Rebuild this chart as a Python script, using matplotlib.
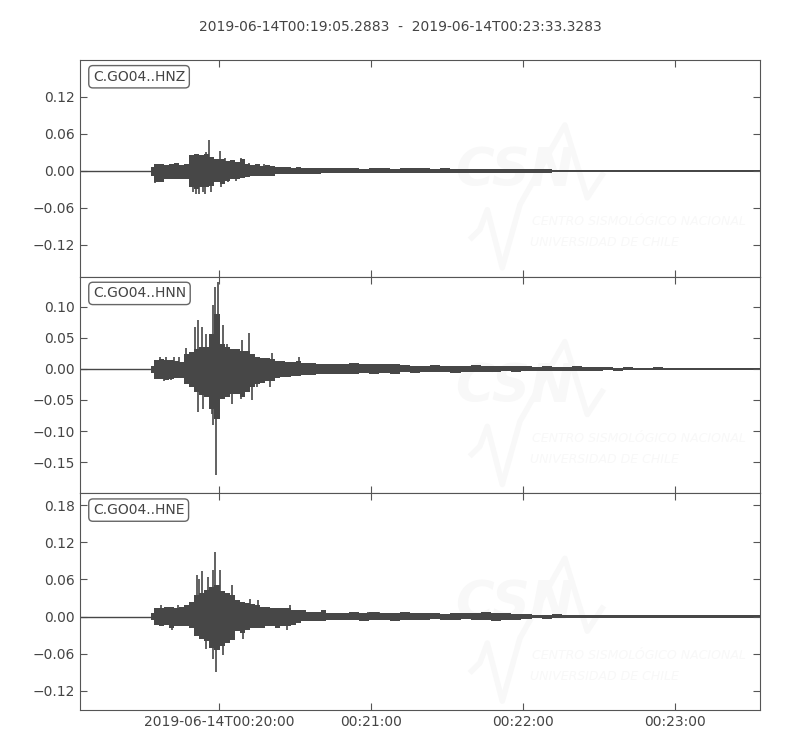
import datetime
import matplotlib.pyplot as plt

# Trace window
start = datetime.datetime(2019, 6, 14, 0, 19, 5, 288300)
end = datetime.datetime(2019, 6, 14, 0, 23, 33, 328300)
duration = (end - start).total_seconds()

channels = ['C.GO04..HNZ', 'C.GO04..HNN', 'C.GO04..HNE']

# bin centres, seconds after start (signal starts ~28 s)
t = [28, 30, 32, 34, 36, 38, 40, 42, 44, 46, 48, 50, 52, 54, 56, 58, 60, 62,
     64, 66, 68, 70, 72, 74, 76, 78, 80, 82, 84, 86, 88, 90, 92, 94, 96, 98,
     100, 104, 108, 112, 116, 120, 124, 128, 132, 136, 140, 144, 148, 152,
     156, 160, 164, 168, 172, 176, 180, 184, 188, 192, 196, 200, 204, 208,
     212, 216, 220, 224, 228, 232, 236, 240, 244, 248, 252, 256, 260, 264, 268]

# max / min of the trace in each bin (m/s^2)
hnz_max = [0.006, 0.011, 0.011, 0.010, 0.011, 0.013, 0.010, 0.011, 0.026, 0.027,
           0.026, 0.027, 0.022, 0.019, 0.019, 0.016, 0.018, 0.014, 0.019, 0.011,
           0.010, 0.011, 0.008, 0.010, 0.008, 0.006, 0.006, 0.006, 0.005, 0.006,
           0.005, 0.005, 0.005, 0.005, 0.005, 0.005, 0.005,
           0.004, 0.004, 0.003, 0.004, 0.004, 0.003, 0.004, 0.004, 0.004, 0.003,
           0.004, 0.003, 0.003, 0.003, 0.003, 0.003, 0.003, 0.003, 0.003, 0.003,
           0.003, 0.002, 0.002, 0.002, 0.002, 0.002, 0.002, 0.002, 0.002, 0.002,
           0.002, 0.002, 0.002, 0.002, 0.002, 0.002, 0.002, 0.002, 0.002, 0.002,
           0.002, 0.002]
hnz_min = [-0.008, -0.019, -0.018, -0.013, -0.013, -0.013, -0.014, -0.014, -0.026,
           -0.029, -0.026, -0.027, -0.024, -0.019, -0.022, -0.016, -0.014, -0.014,
           -0.011, -0.010, -0.008, -0.008, -0.008, -0.008, -0.008, -0.006, -0.006,
           -0.005, -0.005, -0.005, -0.005, -0.005, -0.005, -0.005, -0.003, -0.003,
           -0.003,
           -0.004, -0.003, -0.004, -0.004, -0.003, -0.004, -0.004, -0.003, -0.004,
           -0.004, -0.003, -0.004, -0.003, -0.003, -0.003, -0.003, -0.003, -0.003,
           -0.003, -0.003, -0.003, -0.002, -0.002, -0.002, -0.002, -0.002, -0.002,
           -0.002, -0.002, -0.002, -0.002, -0.002, -0.002, -0.002, -0.002, -0.002,
           -0.002, -0.002, -0.002, -0.002, -0.002, -0.002]

hnn_max = [0.005, 0.014, 0.016, 0.014, 0.014, 0.013, 0.011, 0.024, 0.027, 0.032,
           0.035, 0.035, 0.056, 0.088, 0.040, 0.035, 0.032, 0.032, 0.029, 0.029,
           0.024, 0.019, 0.018, 0.018, 0.016, 0.013, 0.013, 0.011, 0.011, 0.013,
           0.010, 0.010, 0.010, 0.008, 0.008, 0.008, 0.008,
           0.008, 0.009, 0.008, 0.007, 0.008, 0.007, 0.006, 0.005, 0.005, 0.006,
           0.005, 0.005, 0.005, 0.006, 0.005, 0.005, 0.005, 0.004, 0.004, 0.003,
           0.004, 0.003, 0.003, 0.004, 0.003, 0.003, 0.003, 0.002, 0.003, 0.002,
           0.002, 0.003, 0.002, 0.002, 0.002, 0.002, 0.002, 0.002, 0.002, 0.002,
           0.002, 0.002]
hnn_min = [-0.006, -0.016, -0.016, -0.018, -0.016, -0.014, -0.014, -0.024, -0.029,
           -0.038, -0.042, -0.045, -0.064, -0.080, -0.048, -0.045, -0.040, -0.040,
           -0.045, -0.038, -0.029, -0.024, -0.022, -0.019, -0.019, -0.014, -0.013,
           -0.013, -0.011, -0.011, -0.010, -0.010, -0.010, -0.008, -0.008, -0.008,
           -0.008,
           -0.008, -0.009, -0.007, -0.008, -0.007, -0.008, -0.005, -0.006, -0.005,
           -0.005, -0.005, -0.006, -0.005, -0.005, -0.005, -0.005, -0.004, -0.005,
           -0.004, -0.003, -0.003, -0.004, -0.003, -0.003, -0.003, -0.003, -0.002,
           -0.003, -0.002, -0.002, -0.002, -0.002, -0.002, -0.002, -0.002, -0.002,
           -0.002, -0.002, -0.002, -0.002, -0.002, -0.002]

hne_max = [0.005, 0.014, 0.014, 0.016, 0.016, 0.014, 0.016, 0.018, 0.024, 0.035,
           0.038, 0.043, 0.048, 0.051, 0.042, 0.038, 0.035, 0.026, 0.024, 0.022,
           0.021, 0.019, 0.016, 0.016, 0.014, 0.014, 0.014, 0.014, 0.011, 0.010,
           0.010, 0.008, 0.008, 0.008, 0.010, 0.006, 0.006,
           0.006, 0.007, 0.006, 0.008, 0.006, 0.006, 0.007, 0.006, 0.005, 0.005,
           0.004, 0.005, 0.005, 0.006, 0.007, 0.006, 0.005, 0.004, 0.004, 0.003,
           0.003, 0.004, 0.003, 0.003, 0.003, 0.003, 0.002, 0.002, 0.002, 0.002,
           0.002, 0.002, 0.002, 0.002, 0.002, 0.002, 0.002, 0.002, 0.002, 0.002,
           0.002, 0.002]
hne_min = [-0.005, -0.014, -0.016, -0.014, -0.018, -0.016, -0.016, -0.016, -0.019,
           -0.032, -0.037, -0.040, -0.051, -0.054, -0.048, -0.042, -0.038, -0.024,
           -0.026, -0.021, -0.019, -0.019, -0.018, -0.016, -0.016, -0.018, -0.016,
           -0.016, -0.013, -0.010, -0.008, -0.008, -0.008, -0.008, -0.008, -0.006,
           -0.006,
           -0.006, -0.006, -0.007, -0.006, -0.006, -0.007, -0.006, -0.006, -0.005,
           -0.004, -0.005, -0.005, -0.004, -0.006, -0.006, -0.007, -0.005, -0.005,
           -0.004, -0.003, -0.004, -0.003, -0.003, -0.003, -0.003, -0.003, -0.002,
           -0.002, -0.002, -0.002, -0.002, -0.002, -0.002, -0.002, -0.002, -0.002,
           -0.002, -0.002, -0.002, -0.002, -0.002, -0.002]

# single-sample peaks sticking out of the envelope (time s, amplitude)
hnz_peak_t = [44.5, 45.7, 47.0, 48.5, 49.3, 49.7, 51.0, 51.5, 55.2, 55.4, 63.5,
              29.6, 31.4, 57.0, 58.5, 60.8, 61.5, 66.8, 72.5]
hnz_peak_v = [-0.035, -0.038, -0.037, -0.035, -0.038, 0.030, 0.050, -0.035,
              0.032, -0.026, 0.021, -0.020, -0.019, 0.021, -0.019, 0.018,
              -0.016, 0.013, 0.011]
hnn_peak_t = [41.8, 45.3, 46.6, 47.9, 49.7, 52.3, 53.2, 54.3, 56.2, 57.8, 64.0,
              66.6, 46.5, 48.6, 51.9, 52.6, 53.6, 59.8, 63.4, 67.7, 74.9,
              31.5, 34.0, 37.0, 39.0, 75.6, 86.3, 33.0, 36.0, 69.6]
hnn_peak_v = [0.034, 0.067, 0.078, 0.067, 0.056, 0.102, 0.131, 0.139, 0.070,
              0.040, 0.046, 0.058, -0.069, -0.064, -0.072, -0.090, -0.171,
              -0.056, -0.048, -0.050, -0.029, 0.019, 0.019, 0.019, 0.019,
              0.026, 0.019, -0.019, -0.018, -0.029]
hne_peak_t = [46.0, 47.0, 48.0, 50.5, 52.6, 53.2, 55.2, 59.8, 70.0, 49.7, 52.4,
              53.5, 56.5, 64.4, 32.0, 38.5, 67.0, 82.7, 36.1, 81.6, 113.5,
              118.0, 129.0]
hne_peak_v = [0.067, 0.061, 0.074, 0.064, 0.075, 0.104, 0.075, 0.051, 0.027,
              -0.053, -0.069, -0.090, -0.062, -0.037, 0.019, 0.019, 0.029,
              0.018, -0.022, -0.022, 0.008, 0.008, 0.008]

ylims = [(-0.172, 0.180), (-0.200, 0.148), (-0.151, 0.199)]
yticks = [[-0.12, -0.06, 0.0, 0.06, 0.12],
          [-0.15, -0.10, -0.05, 0.0, 0.05, 0.10],
          [-0.12, -0.06, 0.0, 0.06, 0.12, 0.18]]

maxs = [hnz_max, hnn_max, hne_max]
mins = [hnz_min, hnn_min, hne_min]
peak_ts = [hnz_peak_t, hnn_peak_t, hne_peak_t]
peak_vs = [hnz_peak_v, hnn_peak_v, hne_peak_v]

# x ticks at whole minutes
first_min = start.replace(second=0, microsecond=0) + datetime.timedelta(minutes=1)
tick_times = []
tick_labels = []
tm = first_min
while tm < end:
    tick_times.append((tm - start).total_seconds())
    if not tick_labels:
        tick_labels.append(tm.strftime('%Y-%m-%dT%H:%M:%S'))
    else:
        tick_labels.append(tm.strftime('%H:%M:%S'))
    tm += datetime.timedelta(minutes=1)

trace_color = '#474747'
frame_color = '#555555'
text_color = '#444444'
mark_color = '#f8f8f8'

fig, axes = plt.subplots(3, 1, sharex=True, figsize=(8, 7.5), dpi=100)
plt.subplots_adjust(left=0.1, right=0.95, top=0.92, bottom=0.0533, hspace=0)

logo_x = [0.576, 0.588, 0.599, 0.621, 0.647, 0.713, 0.746, 0.768]
logo_y = [0.180, 0.217, 0.309, 0.041, 0.332, 0.700, 0.364, 0.470]

for i, ax in enumerate(axes):
    # faint CSN watermark
    ax.text(0.551, 0.49, 'CSN', transform=ax.transAxes, fontsize=38,
            fontweight='bold', fontstyle='italic', color=mark_color,
            va='center', ha='left', zorder=0)
    ax.text(0.665, 0.253, 'CENTRO SISMOLÓGICO NACIONAL', transform=ax.transAxes,
            fontsize=9, fontstyle='italic', color=mark_color, va='center', zorder=0)
    ax.text(0.662, 0.157, 'UNIVERSIDAD DE CHILE', transform=ax.transAxes,
            fontsize=9, fontstyle='italic', color=mark_color, va='center', zorder=0)
    ax.plot(logo_x, logo_y, transform=ax.transAxes, color=mark_color, lw=4, zorder=0)

    # pre-event flat part
    ax.plot([0, t[0]], [0, 0], color=trace_color, lw=1)
    ax.fill_between(t, mins[i], maxs[i], step='mid', color=trace_color, lw=0)
    ax.vlines(peak_ts[i], 0, peak_vs[i], color=trace_color, lw=1.2)

    ax.set_xlim(0, duration)
    ax.set_ylim(*ylims[i])
    ax.set_yticks(yticks[i])
    ax.set_yticklabels([lbl.replace('-', '\u2212') for lbl in
                        ['%.2f' % v for v in yticks[i]]])
    ax.set_xticks(tick_times)
    ax.tick_params(direction='in', length=5, top=True, right=True,
                   colors=frame_color, labelcolor=text_color, labelsize=10)
    for sp in ax.spines.values():
        sp.set_color(frame_color)

    ax.text(0.019, 0.955, channels[i], transform=ax.transAxes, fontsize=10,
            color=text_color, va='top', ha='left',
            bbox=dict(boxstyle='round,pad=0.3', fc='white', ec='#666666', lw=1))

axes[-1].set_xticklabels(tick_labels)

fig.suptitle('%s  -  %s' % (start.strftime('%Y-%m-%dT%H:%M:%S.%f')[:-2],
                            end.strftime('%Y-%m-%dT%H:%M:%S.%f')[:-2]),
             y=0.973, fontsize=10, color=text_color)

plt.savefig('out.png', dpi=100)
